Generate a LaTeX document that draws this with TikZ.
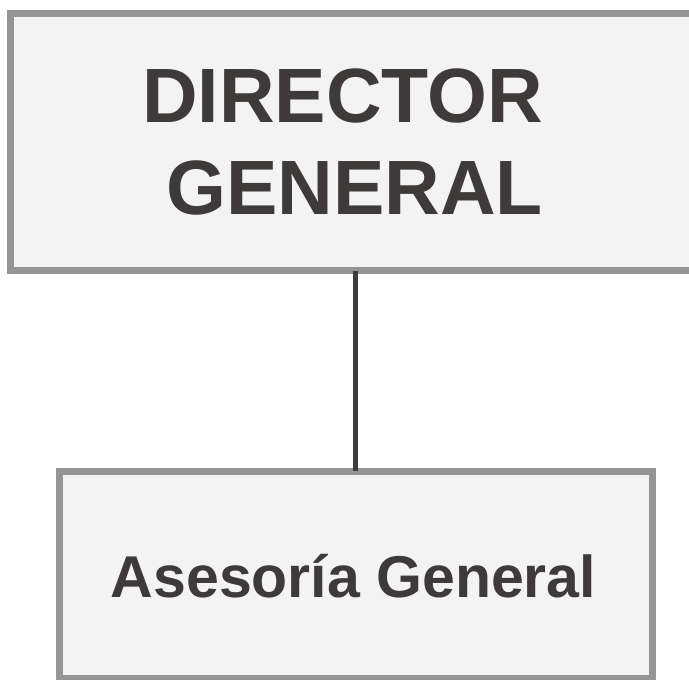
\documentclass[tikz,border=0pt]{standalone}
\usepackage{fontspec}
\setmainfont{Liberation Sans}
\definecolor{boxborder}{HTML}{959595}
\definecolor{boxfill}{HTML}{F3F3F3}
\definecolor{txt}{HTML}{3E3A3A}
\definecolor{wire}{HTML}{3D3D3D}
\tikzset{
  orgbox/.style={draw=boxborder, line width=7pt, fill=boxfill, inner sep=0pt, outer sep=0pt},
  orgtext/.style={text=txt, inner sep=0pt, font=\bfseries},
  link/.style={draw=wire, line width=5pt}
}
\begin{document}
\begin{tikzpicture}[x=1pt,y=-1pt]
\useasboundingbox (0,0) rectangle (689,680);
\begin{scope}
\clip (0,0) rectangle (689,680);
\node[orgbox, minimum width=690pt, minimum height=257pt] (dg) at (355,142) {};
\node[orgbox, minimum width=593pt, minimum height=207pt] (ag) at (356,574.5) {};
\end{scope}
\node[orgtext, align=right, anchor=east, font=\bfseries\fontsize{77}{92}\selectfont] (dgt) at (543,141.5) {DIRECTOR\\GENERAL};
\node[orgtext, anchor=base, font=\bfseries\fontsize{59}{70}\selectfont] (agt) at (353.5,597) {Asesoría General};
\draw[link] (dg.south) -- (dg.south |- ag.north);
\end{tikzpicture}
\end{document}
